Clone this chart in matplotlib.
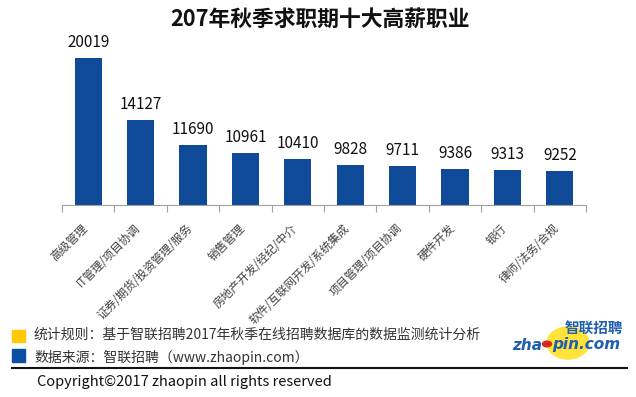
import matplotlib

matplotlib.use("Agg")
import matplotlib.pyplot as plt
import numpy as np
from matplotlib.patches import Rectangle, Ellipse, Circle
from matplotlib.transforms import ScaledTranslation

plt.rcParams["font.family"] = ["Noto Sans CJK SC", "DejaVu Sans"]

TITLE = "207年秋季求职期十大高薪职业"
JOBS = ["高级管理", "IT管理/项目协调", "证券/期货/投资管理/服务", "销售管理",
        "房地产开发/经纪/中介", "软件/互联网开发/系统集成", "项目管理/项目协调",
        "硬件开发", "银行", "律师/法务/合规"]
SALARY = [20019, 14127, 11690, 10961, 10410, 9828, 9711, 9386, 9313, 9252]

NOTE_RULE = "统计规则：基于智联招聘2017年秋季在线招聘数据库的数据监测统计分析"
NOTE_SRC = "数据来源：智联招聘（www.zhaopin.com）"
COPYRIGHT = "Copyright©2017 zhaopin all rights reserved"

W, H = 636, 397
BAR = "#0E4A98"


def fx(px):
    return px / W


def fy(py):
    return 1 - py / H


fig = plt.figure(figsize=(W / 100, H / 100), dpi=100)
ax = fig.add_axes([fx(62), fy(205), fx(586) - fx(62), fy(40) - fy(205)])

x = np.arange(len(JOBS))
ax.bar(x, SALARY, width=0.52, color=BAR, zorder=2)
ax.set_xlim(-0.5, len(JOBS) - 0.5)
ax.set_ylim(6000, 21722)
for xi, v in zip(x, SALARY):
    ax.annotate(str(v), (xi, v), xytext=(0, 8), textcoords="offset points",
                ha="center", va="baseline", fontsize=11, color="#111111")

for side in ["top", "right", "left"]:
    ax.spines[side].set_visible(False)
ax.spines["bottom"].set_color("#a0a0a0")
ax.set_yticks([])
ax.set_xticks(np.arange(len(JOBS) + 1) - 0.5)
ax.set_xticklabels([])
ax.tick_params(axis="x", which="major", length=5, color="#a0a0a0")
ax.set_xticks(x, minor=True)
ax.set_xticklabels(JOBS, minor=True, rotation=45, ha="right",
                   rotation_mode="anchor", fontsize=8.3, color="#404040")
ax.tick_params(axis="x", which="minor", length=0, pad=12)
shift = ScaledTranslation(-0.07, 0, fig.dpi_scale_trans)
for lbl in ax.get_xticklabels(minor=True):
    lbl.set_transform(lbl.get_transform() + shift)

fig.text(fx(320), fy(20), TITLE, ha="center", va="center",
         fontsize=15.7, fontweight="bold", color="#111111")

# footer notes
fig.patches.append(Rectangle((fx(12), fy(342)), fx(13), 12 / H,
                             transform=fig.transFigure, color="#FFC800"))
fig.patches.append(Rectangle((fx(12), fy(362)), fx(13), 13 / H,
                             transform=fig.transFigure, color="#0B4FA3"))
fig.text(fx(34), fy(335), NOTE_RULE, ha="left", va="center",
         fontsize=10, color="#333333")
fig.text(fx(34), fy(357), NOTE_SRC, ha="left", va="center",
         fontsize=10, color="#333333")
fig.add_artist(plt.Line2D([fx(12), fx(627)], [fy(368), fy(368)],
                          transform=fig.transFigure, color="#111111", lw=1.5))
fig.text(fx(37), fy(382), COPYRIGHT, ha="left", va="center",
         fontsize=10.5, color="#111111")

# logo
fig.patches.append(Ellipse((fx(568), fy(343)), fx(42), 32 / H,
                           transform=fig.transFigure, color="#FFE23A"))
fig.text(fx(623), fy(328), "智联招聘", ha="right", va="center", fontsize=10.5,
         fontweight="bold", style="italic", color="#1F5FB0")
fig.text(fx(542), fy(345), "zha", ha="right", va="center", fontsize=11,
         fontweight="bold", style="italic", color="#1F5FB0",
         family="DejaVu Sans")
fig.patches.append(Circle((fx(547), fy(344)), fx(4.5),
                          transform=fig.transFigure, color="#D9241C"))
fig.text(fx(552), fy(345), "pin.com", ha="left", va="center", fontsize=11,
         fontweight="bold", style="italic", color="#1F5FB0",
         family="DejaVu Sans")

fig.savefig("out.png", dpi=100)
